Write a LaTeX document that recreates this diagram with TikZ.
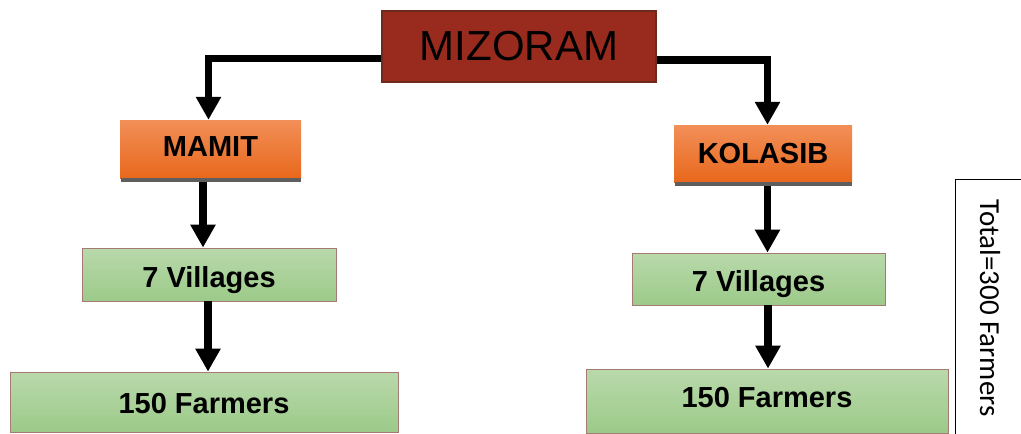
\documentclass[tikz,border=0pt]{standalone}
\usepackage{fontspec}
\setmainfont{Liberation Sans}
\newfontfamily\calfont{Carlito}
\usetikzlibrary{arrows.meta,calc}
\definecolor{mizfill}{HTML}{992B1E}
\definecolor{mizline}{HTML}{6E2A1A}
\definecolor{orgtop}{HTML}{F28F58}
\definecolor{orgbot}{HTML}{E8681C}
\definecolor{grntop}{HTML}{B9D9AB}
\definecolor{grnbot}{HTML}{9CCA89}
\definecolor{grnline}{HTML}{A57A74}
\definecolor{shadowgray}{HTML}{5E5E5E}
\tikzset{
  mizbox/.style={fill=mizfill,draw=mizline,line width=1.5pt,inner sep=0pt,
    font=\fontsize{42}{48}\selectfont},
  orgbox/.style={top color=orgtop,bottom color=orgbot,draw=none,inner sep=0pt,
    text depth=0pt,font=\fontsize{29}{34}\selectfont\bfseries},
  grnbox/.style={top color=grntop,bottom color=grnbot,draw=grnline,line width=0.8pt,inner sep=0pt,
    text depth=0pt,font=\fontsize{29}{34}\selectfont\bfseries},
  arr/.style={line width=7.5pt,-{Triangle[length=23pt,width=24pt]}},
}
\begin{document}
\begin{tikzpicture}[x=1pt,y=-1pt]
\useasboundingbox (0,0) rectangle (1021,434);
% nodes
\node[mizbox,minimum width=274pt,minimum height=71pt] (miz) at (519,46.5) {MIZORAM};
\node[orgbox,text height=15pt,minimum width=181pt,minimum height=58pt] (mamit) at (210.5,149) {MAMIT};
\node[orgbox,text height=19pt,minimum width=178pt,minimum height=57pt] (kol) at (763,153.5) {KOLASIB};
\fill[shadowgray] ($(mamit.south west)+(1,0)$) rectangle ($(mamit.south east)+(0,4)$);
\fill[shadowgray] ($(kol.south west)+(1,0)$) rectangle ($(kol.south east)+(0,4)$);
\node[grnbox,text height=25pt,minimum width=254pt,minimum height=53pt] (vil1) at (209,274.5) {7 Villages};
\node[grnbox,text height=22pt,minimum width=388pt,minimum height=60pt] (far1) at (204,402) {150 Farmers};
\node[grnbox,text height=24pt,minimum width=253pt,minimum height=52pt] (vil2) at (758.5,279) {7 Villages};
\node[grnbox,text height=13pt,minimum width=362pt,minimum height=64pt] (far2) at (767,401) {150 Farmers};
% total box
\draw[line width=0.8pt] (1030,179.5) -- (955.5,179.5) -- (955.5,440);
\node[rotate=-90,inner sep=0pt,font=\calfont\fontsize{29}{34}\selectfont] (tot) at (990,308) {Total=300 Farmers};
% connectors
\draw[arr] ([yshift=-12pt]miz.west) -| ([xshift=-2pt]mamit.north);
\draw[arr] ([yshift=-13.5pt]miz.east) -| ([xshift=4.5pt]kol.north);
\coordinate (s1) at ($(mamit.south)+(-7.5,4)$);
\coordinate (s2) at ($(vil1.south)+(-1,0)$);
\coordinate (s3) at ($(kol.south)+(4.5,4)$);
\coordinate (s4) at ($(vil2.south)+(9.5,0)$);
\draw[arr] (s1) -- (s1 |- vil1.north);
\draw[arr] (s2) -- (s2 |- far1.north);
\draw[arr] (s3) -- (s3 |- vil2.north);
\draw[arr] (s4) -- (s4 |- far2.north);
\end{tikzpicture}
\end{document}
